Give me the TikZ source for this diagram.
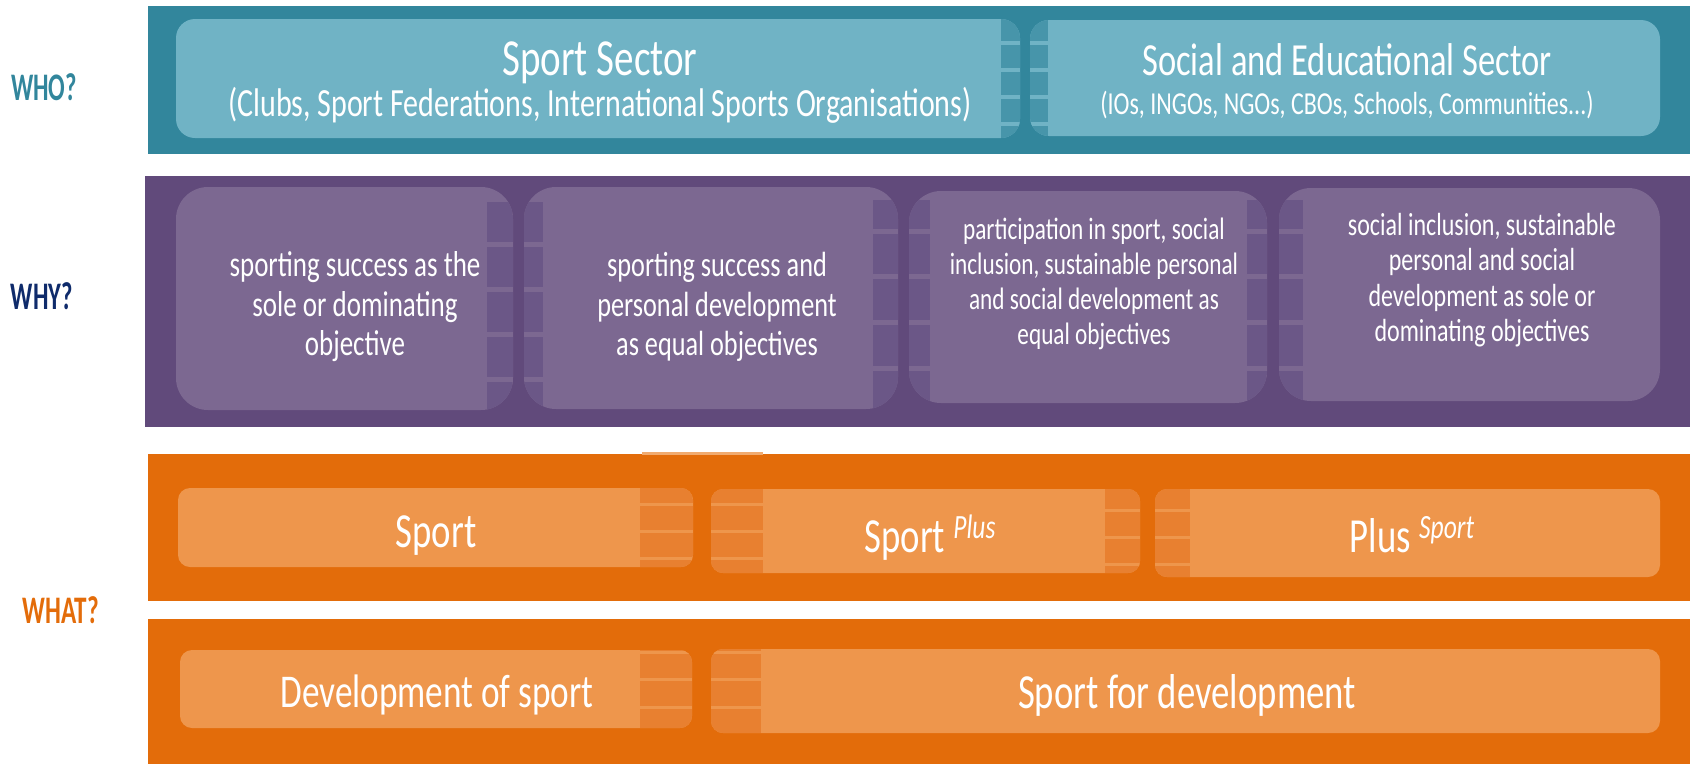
\documentclass[tikz,border=0pt]{standalone}
\usepackage{graphicx}
\usepackage{fontspec}
\setmainfont{Carlito}[FakeStretch=0.75]
\definecolor{tealband}{HTML}{32869C}
\definecolor{tealbox}{HTML}{70B3C5}
\definecolor{tealstrip}{HTML}{4795AA}
\definecolor{purpband}{HTML}{614A7B}
\definecolor{purpbox}{HTML}{7C6891}
\definecolor{purpstrip}{HTML}{6B5787}
\definecolor{orgband}{HTML}{E36C0A}
\definecolor{orgbox}{HTML}{EE964C}
\definecolor{orgstrip}{HTML}{E88030}
\definecolor{whynavy}{HTML}{0F2B6B}
\begin{document}
\begin{tikzpicture}[x=1pt,y=-1pt,line join=round,
	txt/.style={text=white,inner sep=0pt,align=center},
	lbl/.style={inner sep=0pt,anchor=base,font=\fontsize{39}{39}\selectfont\bfseries}]
	\useasboundingbox (0,0) rectangle (1690,764);
	%Nhãn bên trái
	\node[lbl,text=tealband] (who) at (44,100) {\scalebox{0.84}[1]{WHO?}};
	\node[lbl,text=whynavy] (why) at (42,309) {\scalebox{0.84}[1]{WHY?}};
	\node[lbl,text=orgband] (what) at (61,623) {\scalebox{0.86}[1]{WHAT?}};
	%Hàng WHO
	\fill[tealband] (148,6) rectangle (1690,154);
	\path (176,19) coordinate (A1) (1020,138) coordinate (A2)
		(1030,20) coordinate (B1) (1660,136) coordinate (B2);
	\fill[tealbox,rounded corners=19pt] (A1) rectangle (A2);
	\fill[tealbox,rounded corners=19pt] (B1) rectangle (B2);
	\begin{scope}
		\clip[rounded corners=19pt] (A1) rectangle (A2);
		\fill[tealstrip] (1001,19) rectangle (1020,138);
		\foreach \y in {43,70,97,124} \fill[tealbox] (1001,\y-2) rectangle (1020,\y+2);
	\end{scope}
	\begin{scope}
		\clip[rounded corners=19pt] (B1) rectangle (B2);
		\fill[tealstrip] (1030,20) rectangle (1048,136);
		\foreach \y in {43,70,97,124} \fill[tealbox] (1030,\y-2) rectangle (1048,\y+2);
	\end{scope}
	\node[txt,anchor=base,font=\fontsize{52}{52}\selectfont] (sportsec) at (600,75) {Sport Sector};
	\node[txt,anchor=base,font=\fontsize{40}{40}\selectfont] (sportsub) at (600,116) {(Clubs, Sport Federations, International Sports Organisations)};
	\node[txt,anchor=base,font=\fontsize{46}{46}\selectfont] (socsec) at (1347,75) {Social and Educational Sector};
	\node[txt,anchor=base,font=\fontsize{32}{32}\selectfont] (socsub) at (1347,114) {(IOs, INGOs, NGOs, CBOs, Schools, Communities...)};
	%Hàng WHY
	\fill[purpband] (145,176) rectangle (1690,427);
	\path (176,187) coordinate (C1) (513,410) coordinate (C2)
		(524,187) coordinate (D1) (898,409) coordinate (D2)
		(909,191) coordinate (E1) (1267,403) coordinate (E2)
		(1279,188) coordinate (F1) (1660,401) coordinate (F2);
	\foreach \p/\q in {C1/C2,D1/D2,E1/E2,F1/F2}
		\fill[purpbox,rounded corners=32pt] (\p) rectangle (\q);
	\begin{scope}
		\clip[rounded corners=32pt] (C1) rectangle (C2);
		\fill[purpstrip] (487,202) rectangle (513,410);
		\foreach \y in {244,289,334,379} \fill[purpbox] (487,\y-2.5) rectangle (513,\y+2.5);
	\end{scope}
	\begin{scope}
		\clip[rounded corners=32pt] (D1) rectangle (D2);
		\fill[purpstrip] (524,202) rectangle (543,409);
		\foreach \y in {244,289,334,379} \fill[purpbox] (524,\y-2.5) rectangle (543,\y+2.5);
		\fill[purpstrip] (873,200) rectangle (898,409);
		\foreach \y in {231,276,322,368} \fill[purpbox] (873,\y-2.5) rectangle (898,\y+2.5);
	\end{scope}
	\begin{scope}
		\clip[rounded corners=32pt] (E1) rectangle (E2);
		\fill[purpstrip] (909,200) rectangle (930,403);
		\foreach \y in {231,276,322,368} \fill[purpbox] (909,\y-2.5) rectangle (930,\y+2.5);
		\fill[purpstrip] (1247,200) rectangle (1267,403);
		\foreach \y in {231,276,322,368} \fill[purpbox] (1247,\y-2.5) rectangle (1267,\y+2.5);
	\end{scope}
	\begin{scope}
		\clip[rounded corners=32pt] (F1) rectangle (F2);
		\fill[purpstrip] (1279,200) rectangle (1303,401);
		\foreach \y in {231,276,322,368} \fill[purpbox] (1279,\y-2.5) rectangle (1303,\y+2.5);
	\end{scope}
	\node[txt,font=\fontsize{36}{39.5}\selectfont] (obj1) at (355,307) {sporting success as the\\sole or dominating\\objective};
	\node[txt,font=\fontsize{35}{39.5}\selectfont] (obj2) at (717,307) {sporting success and\\personal development\\as equal objectives};
	\node[txt,font=\fontsize{31}{35}\selectfont] (obj3) at (1094,284) {participation in sport, social\\inclusion, sustainable personal\\and social development as\\equal objectives};
	\node[txt,font=\fontsize{32}{35.5}\selectfont] (obj4) at (1482,280) {social inclusion, sustainable\\personal and social\\development as sole or\\dominating objectives};
	%Hàng WHAT
	\fill[orgband] (148,454) rectangle (1690,601);
	\fill[orgband] (148,619) rectangle (1690,764);
	\fill[orgbox!80!white] (642,452) rectangle (763,455);
	\path (178,488) coordinate (G1) (693,567) coordinate (G2)
		(711,489) coordinate (H1) (1140,573) coordinate (H2)
		(1155,489) coordinate (K1) (1660,577) coordinate (K2)
		(180,650) coordinate (L1) (692,728) coordinate (L2)
		(711,649) coordinate (M1) (1660,733) coordinate (M2);
	\foreach \p/\q in {G1/G2,H1/H2,K1/K2,L1/L2,M1/M2}
		\fill[orgbox,rounded corners=12pt] (\p) rectangle (\q);
	\begin{scope}
		\clip[rounded corners=12pt] (G1) rectangle (G2);
		\fill[orgstrip] (640,488) rectangle (693,567);
		\foreach \y in {504,531,558} \fill[orgbox] (640,\y-1.5) rectangle (693,\y+1.5);
	\end{scope}
	\begin{scope}
		\clip[rounded corners=12pt] (H1) rectangle (H2);
		\fill[orgstrip] (711,489) rectangle (763,573);
		\foreach \y in {504,531,558} \fill[orgbox] (711,\y-1.5) rectangle (763,\y+1.5);
		\fill[orgstrip] (1105,489) rectangle (1140,573);
		\foreach \y in {510,537,564} \fill[orgbox] (1105,\y-1.5) rectangle (1140,\y+1.5);
	\end{scope}
	\begin{scope}
		\clip[rounded corners=12pt] (K1) rectangle (K2);
		\fill[orgstrip] (1155,489) rectangle (1190,577);
		\foreach \y in {510,537,564} \fill[orgbox] (1155,\y-1.5) rectangle (1190,\y+1.5);
	\end{scope}
	\begin{scope}
		\clip[rounded corners=12pt] (L1) rectangle (L2);
		\fill[orgstrip] (640,650) rectangle (692,728);
		\foreach \y in {652,679,707} \fill[orgbox] (640,\y-1.5) rectangle (692,\y+1.5);
	\end{scope}
	\begin{scope}
		\clip[rounded corners=12pt] (M1) rectangle (M2);
		\fill[orgstrip] (711,649) rectangle (761,733);
		\foreach \y in {652,679,707} \fill[orgbox] (711,\y-1.5) rectangle (761,\y+1.5);
	\end{scope}
	\node[txt,anchor=base,font=\fontsize{49}{49}\selectfont] (sport) at (436,547) {Sport};
	\node[txt,anchor=base,font=\fontsize{49}{49}\selectfont] (sportplus) at (930,552) {Sport\,\raisebox{14pt}{\fontsize{34}{34}\selectfont\itshape Plus}};
	\node[txt,anchor=base,font=\fontsize{49}{49}\selectfont] (plussport) at (1412,552) {Plus\,\raisebox{14pt}{\fontsize{34}{34}\selectfont\itshape Sport}};
	\node[txt,anchor=base,font=\fontsize{47}{47}\selectfont] (devsport) at (437,707) {Development of sport};
	\node[txt,anchor=base,font=\fontsize{49}{49}\selectfont] (sportdev) at (1187,708) {Sport for development};
\end{tikzpicture}
\end{document}
